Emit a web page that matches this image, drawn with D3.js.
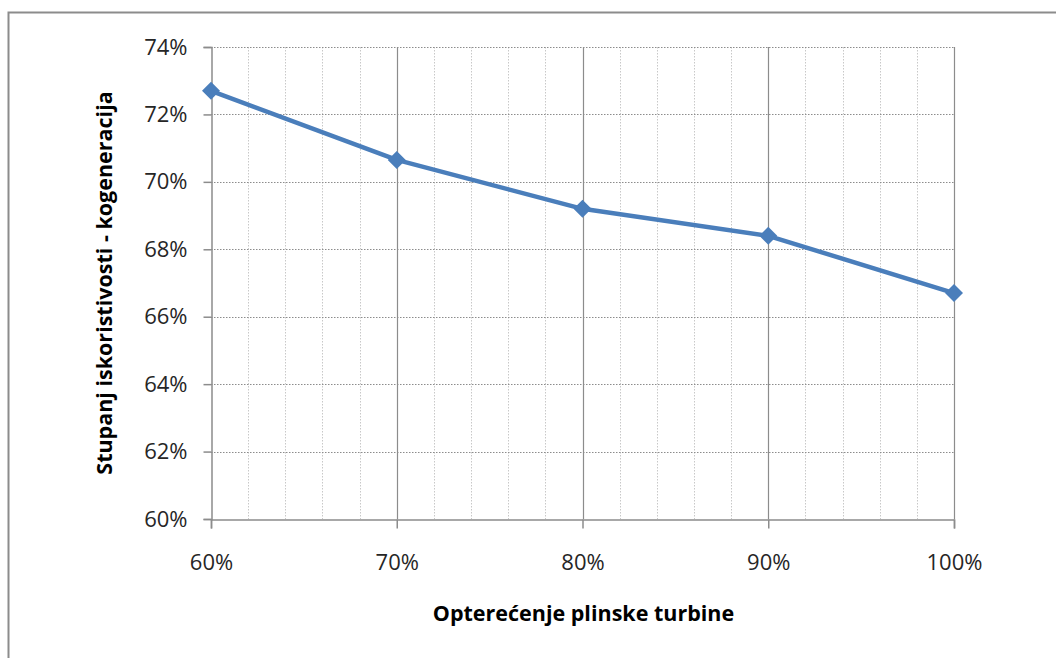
<!DOCTYPE html>
<html><head><meta charset="utf-8">
<script src="https://cdn.jsdelivr.net/npm/d3@7"></script>
<style>body{margin:0;background:#fff}svg{display:block}</style>
</head><body>
<svg id="c" width="1056" height="658"></svg>
<script>
const loads = [0.60, 0.70, 0.80, 0.90, 1.00];
const efficiency = [0.727, 0.7065, 0.692, 0.684, 0.667];
const xTicks = [0.60, 0.70, 0.80, 0.90, 1.00];
const yTicks = [0.60, 0.62, 0.64, 0.66, 0.68, 0.70, 0.72, 0.74];
const xTitle = "Opterećenje plinske turbine";
const yTitle = "Stupanj iskoristivosti - kogeneracija";

const svg = d3.select("#c");
const L = 211, R = 954, T = 47, B = 519;
const x = d3.scaleLinear().domain([0.6, 1.0]).range([L, R]);
const y = d3.scaleLinear().domain([0.6, 0.74]).range([B, T]);
const fmt = d3.format(".0%");
const font = "'Open Sans', sans-serif";

svg.append("rect").attr("x", 8.5).attr("y", 12.5).attr("width", 1100).attr("height", 700)
  .attr("fill", "#fff").attr("stroke", "#8c8c8c").attr("stroke-width", 2);

// minor vertical gridlines
const minor = d3.range(0.6, 1.0001, 0.02).filter(v => Math.abs(Math.round(v * 10) - v * 10) > 1e-6);
svg.append("g").selectAll("line").data(minor).join("line")
  .attr("x1", d => Math.round(x(d)) + 0.5).attr("x2", d => Math.round(x(d)) + 0.5)
  .attr("y1", T).attr("y2", B)
  .attr("stroke", "#c8c8c8").attr("stroke-dasharray", "1.5,1.5");
// horizontal gridlines
svg.append("g").selectAll("line").data(yTicks.slice(1)).join("line")
  .attr("x1", L).attr("x2", R)
  .attr("y1", d => Math.round(y(d)) + 0.5).attr("y2", d => Math.round(y(d)) + 0.5)
  .attr("stroke", "#8c8c8c").attr("stroke-dasharray", "1.5,1.5");
// major vertical gridlines
svg.append("g").selectAll("line").data(xTicks.slice(1)).join("line")
  .attr("x1", d => Math.round(x(d)) + 0.5).attr("x2", d => Math.round(x(d)) + 0.5)
  .attr("y1", T).attr("y2", B)
  .attr("stroke", "#8c8c8c").attr("stroke-width", 1.2);

// axes
const xAxis = svg.append("g").attr("transform", `translate(0,${B + 0.5})`)
  .call(d3.axisBottom(x).tickValues(xTicks).tickFormat(fmt).tickSize(9).tickPadding(26));
const yAxis = svg.append("g").attr("transform", `translate(${L + 0.5},0)`)
  .call(d3.axisLeft(y).tickValues(yTicks).tickFormat(fmt).tickSize(8).tickPadding(16));
[xAxis, yAxis].forEach(a => {
  a.selectAll(".domain,line").attr("stroke", "#8c8c8c").attr("stroke-width", 1.5);
  a.selectAll("text").attr("font-family", font).attr("font-size", 22).attr("fill", "#262626");
});

// line
const pts = loads.map((d, i) => [d, efficiency[i]]);
svg.append("path").datum(pts)
  .attr("d", d3.line().x(d => x(d[0])).y(d => y(d[1])))
  .attr("fill", "none").attr("stroke", "#4a7ebb").attr("stroke-width", 4.5)
  .attr("stroke-linejoin", "round");
svg.append("g").selectAll("path").data(pts).join("path")
  .attr("transform", d => `translate(${x(d[0])},${y(d[1])})`)
  .attr("d", "M0,-9L9,0L0,9L-9,0Z").attr("fill", "#4a7ebb");

// titles
svg.append("text").attr("x", (L + R) / 2 + 1).attr("y", 621).attr("text-anchor", "middle")
  .attr("font-family", font).attr("font-weight", "bold").attr("font-size", 21.5).attr("fill", "#000")
  .text(xTitle);
svg.append("text").attr("transform", `translate(112,${(T + B) / 2}) rotate(-90)`)
  .attr("text-anchor", "middle")
  .attr("font-family", font).attr("font-weight", "bold").attr("font-size", 21.5).attr("fill", "#000")
  .text(yTitle);
</script>
</body></html>
